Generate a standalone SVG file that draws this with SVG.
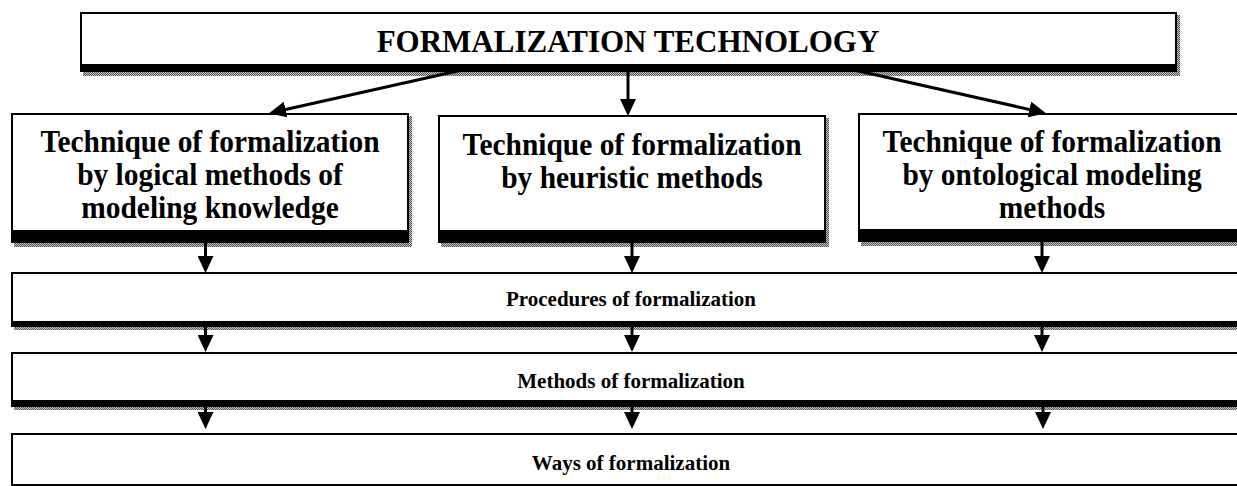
<svg xmlns="http://www.w3.org/2000/svg" width="1237" height="486" viewBox="0 0 1237 486">
  <style>
    .frame { fill: #000; }
    .face { fill: #fff; }
    .shadow { fill: url(#dots); }
    .title { font-family: "Liberation Serif", "Times New Roman", serif; font-weight: bold; font-size: 31px; text-anchor: middle; fill: #000; }
    .node { font-family: "Liberation Serif", "Times New Roman", serif; font-weight: bold; font-size: 32px; text-anchor: middle; fill: #000; }
    .band { font-family: "Liberation Serif", "Times New Roman", serif; font-weight: bold; font-size: 21px; text-anchor: middle; fill: #000; }
    .link { stroke: #000; stroke-width: 3; fill: none; marker-end: url(#head); }
  </style>
  <defs>
    <!-- fine checker used for the drop shadows -->
    <pattern id="dots" width="2" height="2" patternUnits="userSpaceOnUse">
      <rect width="2" height="2" fill="#c4c4c4"/>
      <rect width="1" height="1" fill="#555"/>
      <rect x="1" y="1" width="1" height="1" fill="#555"/>
    </pattern>
    <marker id="head" markerUnits="userSpaceOnUse" markerWidth="17" markerHeight="16" refX="8" refY="8" orient="auto">
      <path d="M0,0 L17,8 L0,16 Z" fill="#000"/>
    </marker>
  </defs>
  <rect width="1237" height="486" fill="#fff"/>

  <!-- top level -->
  <g id="technology">
    <rect class="shadow" x="83" y="15" width="1097" height="61"/>
    <rect class="frame" x="80" y="12" width="1097" height="60"/>
    <rect class="face" x="82" y="14" width="1093" height="50"/>
    <text class="title" x="628" y="52">FORMALIZATION TECHNOLOGY</text>
  </g>

  <!-- techniques (text slightly condensed horizontally) -->
  <g id="technique-logical">
    <rect class="shadow" x="14" y="116" width="398" height="131"/>
    <rect class="frame" x="11" y="113" width="398" height="130"/>
    <rect class="face" x="13" y="115" width="394" height="115"/>
    <g transform="matrix(0.92 0 0 1 210 0)">
      <text class="node" x="0" y="152">Technique of formalization</text>
      <text class="node" x="0" y="185">by logical methods of</text>
      <text class="node" x="0" y="218">modeling knowledge</text>
    </g>
  </g>
  <g id="technique-heuristic">
    <rect class="shadow" x="441" y="118" width="388" height="129"/>
    <rect class="frame" x="438" y="115" width="388" height="128"/>
    <rect class="face" x="440" y="117" width="384" height="113"/>
    <g transform="matrix(0.92 0 0 1 632 0)">
      <text class="node" x="0" y="155">Technique of formalization</text>
      <text class="node" x="0" y="188">by heuristic methods</text>
    </g>
  </g>
  <g id="technique-ontological">
    <rect class="shadow" x="861" y="116" width="390" height="130"/>
    <rect class="frame" x="858" y="113" width="390" height="129"/>
    <rect class="face" x="860" y="115" width="390" height="114"/>
    <g transform="matrix(0.92 0 0 1 1052 0)">
      <text class="node" x="0" y="152">Technique of formalization</text>
      <text class="node" x="0" y="185">by ontological modeling</text>
      <text class="node" x="0" y="218">methods</text>
    </g>
  </g>

  <!-- levels -->
  <g id="procedures">
    <rect class="shadow" x="14" y="275" width="1240" height="55"/>
    <rect class="frame" x="11" y="272" width="1240" height="55"/>
    <rect class="face" x="13" y="274" width="1240" height="47"/>
    <text class="band" x="631" y="306">Procedures of formalization</text>
  </g>
  <g id="methods">
    <rect class="shadow" x="14" y="355" width="1240" height="55"/>
    <rect class="frame" x="11" y="352" width="1240" height="55"/>
    <rect class="face" x="13" y="354" width="1240" height="46"/>
    <text class="band" x="631" y="388">Methods of formalization</text>
  </g>
  <g id="ways">
    <rect class="frame" x="11" y="433" width="1240" height="60"/>
    <rect class="face" x="13" y="435" width="1240" height="49"/>
    <text class="band" x="631" y="470">Ways of formalization</text>
  </g>

  <!-- connectors -->
  <g id="connectors">
    <line class="link" x1="462" y1="70" x2="277.8" y2="111.2"/>
    <line class="link" x1="628" y1="72" x2="628" y2="107"/>
    <line class="link" x1="854" y1="70" x2="1037.2" y2="111.2"/>

    <line class="link" x1="205.5" y1="243" x2="205.5" y2="264"/>
    <line class="link" x1="632" y1="243" x2="632" y2="264"/>
    <line class="link" x1="1042" y1="242" x2="1042" y2="264"/>

    <line class="link" x1="205.5" y1="327" x2="205.5" y2="343"/>
    <line class="link" x1="632" y1="327" x2="632" y2="343"/>
    <line class="link" x1="1042" y1="327" x2="1042" y2="343"/>

    <line class="link" x1="205.5" y1="407" x2="205.5" y2="420"/>
    <line class="link" x1="632" y1="407" x2="632" y2="420"/>
    <line class="link" x1="1043" y1="407" x2="1043" y2="420"/>
  </g>
</svg>
